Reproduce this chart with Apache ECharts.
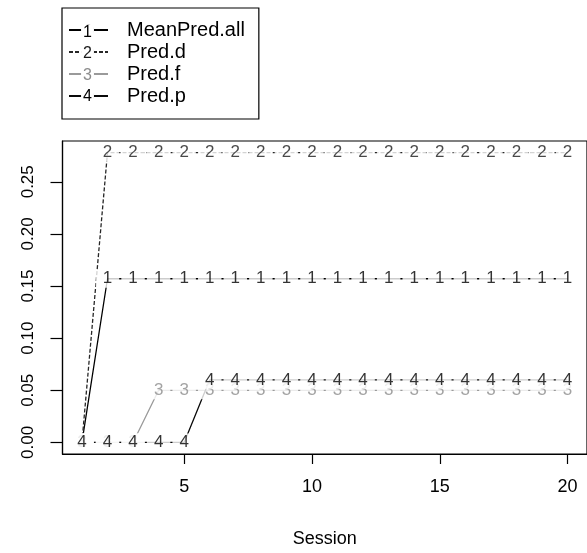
<!DOCTYPE html>
<html>
<head>
<meta charset="utf-8">
<script src="https://cdn.jsdelivr.net/npm/echarts@6/dist/echarts.min.js"></script>
<style>
html,body{margin:0;padding:0;background:#fff;}
#chart{width:587px;height:553px;}
</style>
</head>
<body>
<div id="chart"></div>
<script>
// ---- data ----
var sessions = [1,2,3,4,5,6,7,8,9,10,11,12,13,14,15,16,17,18,19,20];
var seriesNames = ['MeanPred.all','Pred.d','Pred.f','Pred.p'];
var seriesCodes = ['1','2','3','4'];
var meanPredAll = [0,0.157,0.157,0.157,0.157,0.157,0.157,0.157,0.157,0.157,0.157,0.157,0.157,0.157,0.157,0.157,0.157,0.157,0.157,0.157];
var predD = [0,0.278,0.278,0.278,0.278,0.278,0.278,0.278,0.278,0.278,0.278,0.278,0.278,0.278,0.278,0.278,0.278,0.278,0.278,0.278];
var predF = [0,0,0,0.050,0.050,0.050,0.050,0.050,0.050,0.050,0.050,0.050,0.050,0.050,0.050,0.050,0.050,0.050,0.050,0.050];
var predP = [0,0,0,0,0,0.060,0.060,0.060,0.060,0.060,0.060,0.060,0.060,0.060,0.060,0.060,0.060,0.060,0.060,0.060];
var xTicks = [5,10,15,20];
var yTicks = [0,0.05,0.10,0.15,0.20,0.25];
var xLabel = 'Session';

// ---- styles ----
var lineColors = ['#000000','#262626','#9a9a9a','#0a0a0a'];
var textColors = ['#000000','#1a1a1a','#8c8c8c','#000000'];
var lineTypes = ['solid',[4,2],'solid','solid'];
var FONT = '"Liberation Sans", Arial, Helvetica, sans-serif';

var values = [meanPredAll, predD, predF, predP];
var series = [];
values.forEach(function (vals, i) {
  var pts = sessions.map(function (s, k) { return [s, vals[k]]; });
  series.push({
    name: seriesNames[i], type: 'line', data: pts, symbol: 'none', silent: true,
    lineStyle: { color: lineColors[i], width: 1.3, type: lineTypes[i] },
    itemStyle: { color: lineColors[i] }, z: 2, animation: false
  });
});
values.forEach(function (vals, i) {
  var pts = sessions.map(function (s, k) { return [s, vals[k]]; });
  series.push({
    name: seriesNames[i], type: 'scatter', data: pts, symbolSize: 1, silent: true,
    itemStyle: { color: 'rgba(0,0,0,0)' }, z: 3 + i, animation: false,
    label: {
      show: true, position: 'inside', formatter: seriesCodes[i],
      color: textColors[i], fontSize: 17, fontFamily: FONT,
      backgroundColor: '#ffffff', padding: [1, 7, 0, 7]
    }
  });
});

var chart = echarts.init(document.getElementById('chart'), null, { renderer: 'canvas' });

var rowCenters = [32.5, 54, 75.5, 97];
var legendNums = seriesCodes.map(function (c, i) {
  return {
    type: 'text', x: 87.5, y: rowCenters[i], z: 100,
    style: { text: c, fill: textColors[i], font: '16px ' + FONT,
             align: 'center', verticalAlign: 'middle',
             backgroundColor: '#fff', padding: [0, 2, 0, 2] }
  };
});

chart.setOption({
  animation: false,
  backgroundColor: '#fff',
  grid: { left: 62.5, right: -5.6, top: 141, bottom: 88, show: true,
          borderColor: '#000', borderWidth: 1.2, backgroundColor: 'transparent' },
  legend: {
    data: seriesNames, orient: 'vertical', left: 62, top: 8,
    padding: [12, 14, 13, 6], itemWidth: 39, itemHeight: 14, itemGap: 2,
    borderColor: '#000', borderWidth: 1.2, selectedMode: false,
    textStyle: { fontSize: 20, fontFamily: FONT, color: '#000', lineHeight: 18, padding: [0, 0, 0, 14] }
  },
  xAxis: {
    type: 'value', min: 0.24, max: 20.76,
    name: xLabel, nameLocation: 'middle', nameGap: 76,
    nameTextStyle: { fontSize: 18, fontFamily: FONT, color: '#000' },
    axisLine: { show: true, onZero: false, lineStyle: { color: '#000', width: 1.2 } },
    axisTick: { show: true, length: 10, customValues: xTicks, lineStyle: { color: '#000', width: 1.2 } },
    axisLabel: { show: true, customValues: xTicks, margin: 24, fontSize: 18, fontFamily: FONT, color: '#000' },
    splitLine: { show: false }
  },
  yAxis: {
    type: 'value', min: -0.0111, max: 0.2891,
    axisLine: { show: true, onZero: false, lineStyle: { color: '#000', width: 1.2 } },
    axisTick: { show: true, length: 12, customValues: yTicks, lineStyle: { color: '#000', width: 1.2 } },
    axisLabel: { show: true, customValues: yTicks, rotate: 90, margin: 26, fontSize: 17, fontFamily: FONT, color: '#000',
                 formatter: function (v) { return v.toFixed(2); } },
    splitLine: { show: false }
  },
  graphic: legendNums,
  series: series
});
</script>
</body>
</html>
